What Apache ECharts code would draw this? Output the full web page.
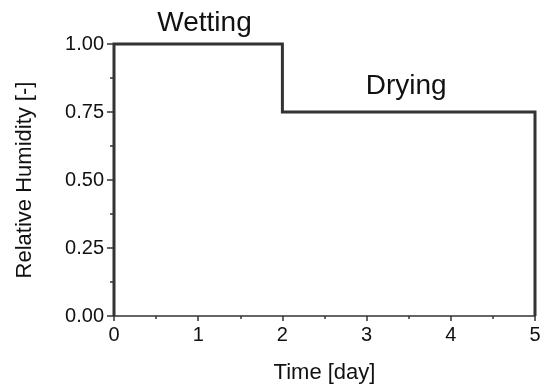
<!DOCTYPE html>
<html>
<head>
<meta charset="utf-8">
<script src="https://cdn.jsdelivr.net/npm/echarts@6/dist/echarts.min.js"></script>
<style>
html,body{margin:0;padding:0;background:#fff;}
#chart{width:550px;height:387px;}
</style>
</head>
<body>
<div id="chart"></div>
<script>
// Step profile of relative humidity over time
var timeDays = [0, 0, 2, 2, 5, 5];
var relHumidity = [0, 1, 1, 0.75, 0.75, 0];
var xTicks = [0, 1, 2, 3, 4, 5];
var yTicks = [0, 0.25, 0.5, 0.75, 1.0];
var phaseLabels = ['Wetting', 'Drying'];
var phaseLabelX = [1.075, 3.47];
var phaseLabelY = [1.077, 0.843];

var FONT = '"Liberation Sans", Arial, Helvetica, sans-serif';
var AX = '#333333';

var chart = echarts.init(document.getElementById('chart'), null, {renderer: 'canvas'});
var points = timeDays.map(function (t, i) { return [t, relHumidity[i]]; });

var option = {
  animation: false,
  backgroundColor: '#ffffff',
  grid: {left: 114, right: 15, top: 44, bottom: 71, outerBoundsMode: 'none', containLabel: false},
  xAxis: {
    type: 'value', min: xTicks[0], max: xTicks[xTicks.length - 1], interval: 1,
    name: 'Time [day]', nameLocation: 'middle', nameGap: 46,
    nameTextStyle: {fontFamily: FONT, fontSize: 22, color: '#111'},
    axisLine: {show: true, onZero: false, lineStyle: {color: AX, width: 1.5}},
    axisTick: {show: true, inside: false, length: 5, lineStyle: {color: AX, width: 1.5}},
    minorTick: {show: true, splitNumber: 2, length: 3, lineStyle: {color: AX, width: 1.5}},
    axisLabel: {fontFamily: FONT, fontSize: 20, color: '#111', margin: 9,
      formatter: function (v) { return String(v); }},
    splitLine: {show: false}
  },
  yAxis: {
    type: 'value', min: yTicks[0], max: yTicks[yTicks.length - 1], interval: 0.25,
    name: 'Relative Humidity [-]', nameLocation: 'middle', nameGap: 78,
    nameTextStyle: {fontFamily: FONT, fontSize: 22, color: '#111'},
    axisLine: {show: true, onZero: false, lineStyle: {color: AX, width: 1.5}},
    axisTick: {show: true, inside: false, length: 7, lineStyle: {color: AX, width: 1.5}},
    minorTick: {show: true, splitNumber: 2, length: 4, lineStyle: {color: AX, width: 1.5}},
    axisLabel: {fontFamily: FONT, fontSize: 20, color: '#111', margin: 10,
      formatter: function (v) { return v.toFixed(2); }},
    splitLine: {show: false}
  },
  series: [{
    type: 'line',
    data: points,
    showSymbol: false,
    symbol: 'none',
    clip: false,
    lineStyle: {color: '#333333', width: 3, join: 'miter'}
  }]
};
chart.setOption(option);

var graphics = phaseLabels.map(function (txt, i) {
  var p = chart.convertToPixel({gridIndex: 0}, [phaseLabelX[i], phaseLabelY[i]]);
  return {
    type: 'text', x: p[0], y: p[1],
    style: {text: txt, fontFamily: FONT, fontSize: 28, fill: '#111', align: 'center', verticalAlign: 'middle'}
  };
});
chart.setOption({graphic: graphics});
</script>
</body>
</html>
